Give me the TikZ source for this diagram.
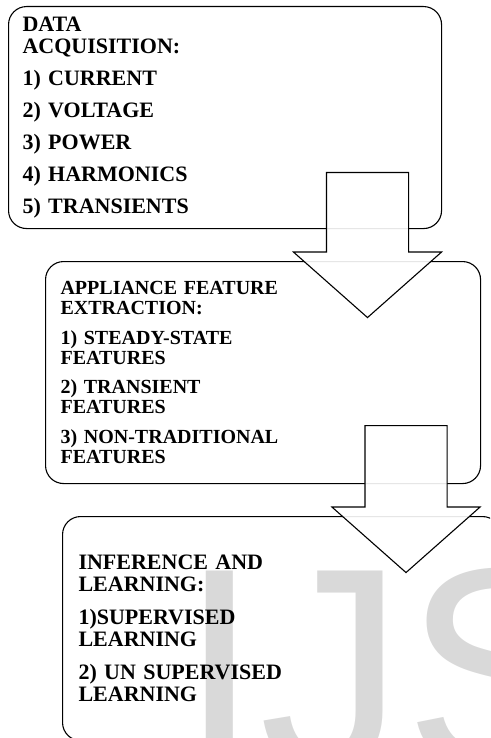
\documentclass[tikz,border=0pt]{standalone}
\usepackage{fontspec}
\setmainfont{Liberation Serif}
\newfontfamily\markfont{Liberation Sans}
\usetikzlibrary{positioning, shapes.arrows}

\begin{document}
\begin{tikzpicture}[x=1pt, y=1pt,
  stagebox/.style={draw, line width=1.1pt, rounded corners=18pt, align=left, anchor=north west, inner ysep=0pt},
  blockarrow/.style={draw, line width=1.1pt, fill=white, fill opacity=0.9, single arrow, rotate=-90, anchor=tail, inner xsep=0pt, inner ysep=40.5pt, minimum width=147pt, single arrow head extend=33pt, single arrow tip angle=97}]
  \useasboundingbox (0,0) rectangle (490,-738);
  \clip (0,0) rectangle (490,-738);
  % watermark behind the last box
  \node[anchor=base west, inner sep=0pt, text=black!15, font=\markfont\fontsize{290}{290}\selectfont] (mark) at (179,-770) {IJS};
  % the three stages
  \node[stagebox, inner xsep=14pt, text width=405pt, minimum height=222pt, font=\bfseries\fontsize{22}{22}\selectfont] (acq) at (8,-6)
    {DATA\\ ACQUISITION:\\[10pt] 1) CURRENT\\[10pt] 2) VOLTAGE\\[10pt] 3) POWER\\[10pt] 4) HARMONICS\\[10pt] 5) TRANSIENTS};
  \node[stagebox, inner xsep=15pt, text width=405pt, minimum height=222pt, font=\bfseries\fontsize{20}{20}\selectfont] (feat) at (45,-261)
    {APPLIANCE FEATURE\\ EXTRACTION:\\[9.5pt] 1) STEADY-STATE\\ FEATURES\\[9.5pt] 2) TRANSIENT\\ FEATURES\\[9.5pt] 3) NON-TRADITIONAL\\ FEATURES};
  \node[stagebox, inner xsep=16pt, text width=406pt, minimum height=224pt, font=\bfseries\fontsize{22}{21.5}\selectfont] (infer) at (62,-516)
    {INFERENCE AND\\ LEARNING:\\[12pt] 1)SUPERVISED\\ LEARNING\\[12pt] 2) UN SUPERVISED\\ LEARNING};
  % block arrows between the stages
  \node[blockarrow, minimum height=145pt] (arrA) at (367.5,-172) {};
  \node[blockarrow, minimum height=147pt] (arrB) at (406,-425) {};
\end{tikzpicture}
\end{document}
